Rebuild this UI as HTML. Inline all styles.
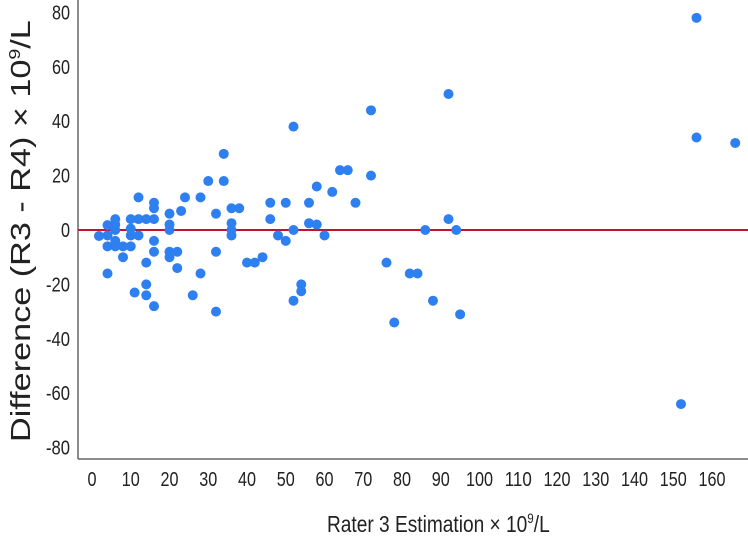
<!DOCTYPE html>
<html><head><meta charset="utf-8"><style>
html,body{margin:0;padding:0;background:#fff}
svg{display:block;font-family:"Liberation Sans Narrow","Liberation Sans",sans-serif}
</style></head><body>
<svg id="chart" width="748" height="540" viewBox="0 0 748 540">
<g id="yticks"></g>
<g id="xticks"></g>
<line x1="78" y1="0" x2="78" y2="459" stroke="#666" stroke-width="1.5"/>
<line x1="78" y1="459" x2="748" y2="459" stroke="#666" stroke-width="1.5"/>
<line id="zeroline" x1="78" x2="748" stroke="#c8102e" stroke-width="2"/>
<g id="points"></g>
<g id="xtg"><text id="xtitle" x="0" y="0" font-size="23" fill="#222">Rater 3 Estimation × 10<tspan dy="-9" font-size="14">9</tspan><tspan dy="9">/L</tspan></text></g>
<g id="ytg"><text id="ytitle" x="0" y="0" font-size="28" fill="#222">Difference (R3 - R4) × 10<tspan dy="-10" font-size="16">9</tspan><tspan dy="10">/L</tspan></text></g>
</svg>
<script>
const xTicks=[0,10,20,30,40,50,60,70,80,90,100,110,120,130,140,150,160];
const yTicks=[80,60,40,20,0,-20,-40,-60,-80];
const xVals=[1.8,4,4,4,4,6,6,6,6,6,8,8,10,10,10,10,11,12,12,12,14,14,14,14,16,16,16,16,16,16,20,20,20,20,20,22,22,23,24,26,28,28,30,32,32,32,34,34,36,36,36,36,38,40,42,44,46,46,48,50,50,52,52,52,54,54,56,56,58,58,60,62,64,66,68,72,72,76,78,82,84,86,88,92,92,94,95,156,156,166,152];
const yVals=[-2.2,1.8,-2,-6,-16,4,2,0,-4,-6,-6,-10,4,0.5,-2,-6,-23,12,4,-2,-12,-20,-24,4,10,8,4,-4,-8,-28,6,2,0,-8,-10,-8,-14,7,12,-24,12,-16,18,6,-8,-30,28,18,8,2.5,0,-2,8,-12,-12,-10,10,4,-2,10,-4,0,-26,38,-20,-22.5,10,2.5,16,2,-2,14,22,22,10,44,20,-12,-34,-16,-16,0,-26,50,4,0,-31,78,34,32,-64];
const X=v=>92+v*3.875, Y=v=>230-v*2.72;
const NS='http://www.w3.org/2000/svg';
document.getElementById('zeroline').setAttribute('y1',Y(0));
document.getElementById('zeroline').setAttribute('y2',Y(0));
const cw=s=>{let w=0;for(const ch of String(s))w+=(ch==='-'?6:9);return w;};
const yt=document.getElementById('yticks');
yTicks.forEach(t=>{const e=document.createElementNS(NS,'text');


e.setAttribute('x',70-cw(t));e.setAttribute('y',Y(t)+7);
e.setAttribute('textLength',cw(t));e.setAttribute('lengthAdjust','spacingAndGlyphs');
e.setAttribute('font-size','20');e.setAttribute('fill','#222');e.textContent=t;yt.appendChild(e);});
const xt=document.getElementById('xticks');
xTicks.forEach(t=>{const e=document.createElementNS(NS,'text');


e.setAttribute('x',X(t)-cw(t)/2);e.setAttribute('y',486);
e.setAttribute('textLength',cw(t));e.setAttribute('lengthAdjust','spacingAndGlyphs');
e.setAttribute('font-size','20');e.setAttribute('fill','#222');e.textContent=t;xt.appendChild(e);});
const pg=document.getElementById('points');
xVals.forEach((v,i)=>{const c=document.createElementNS(NS,'circle');


c.setAttribute('cx',X(v));c.setAttribute('cy',Y(yVals[i]));c.setAttribute('r',5);
c.setAttribute('fill','#2e7ff0');pg.appendChild(c);});
const xw=document.getElementById('xtitle').getBBox().width||300;
document.getElementById('xtg').setAttribute('transform','translate(327,532) scale('+(223/xw)+',1)');
const yw=document.getElementById('ytitle').getBBox().width||500;
document.getElementById('ytg').setAttribute('transform','translate(30,442) rotate(-90) scale('+(422/yw)+',1)');
</script>
</body></html>
